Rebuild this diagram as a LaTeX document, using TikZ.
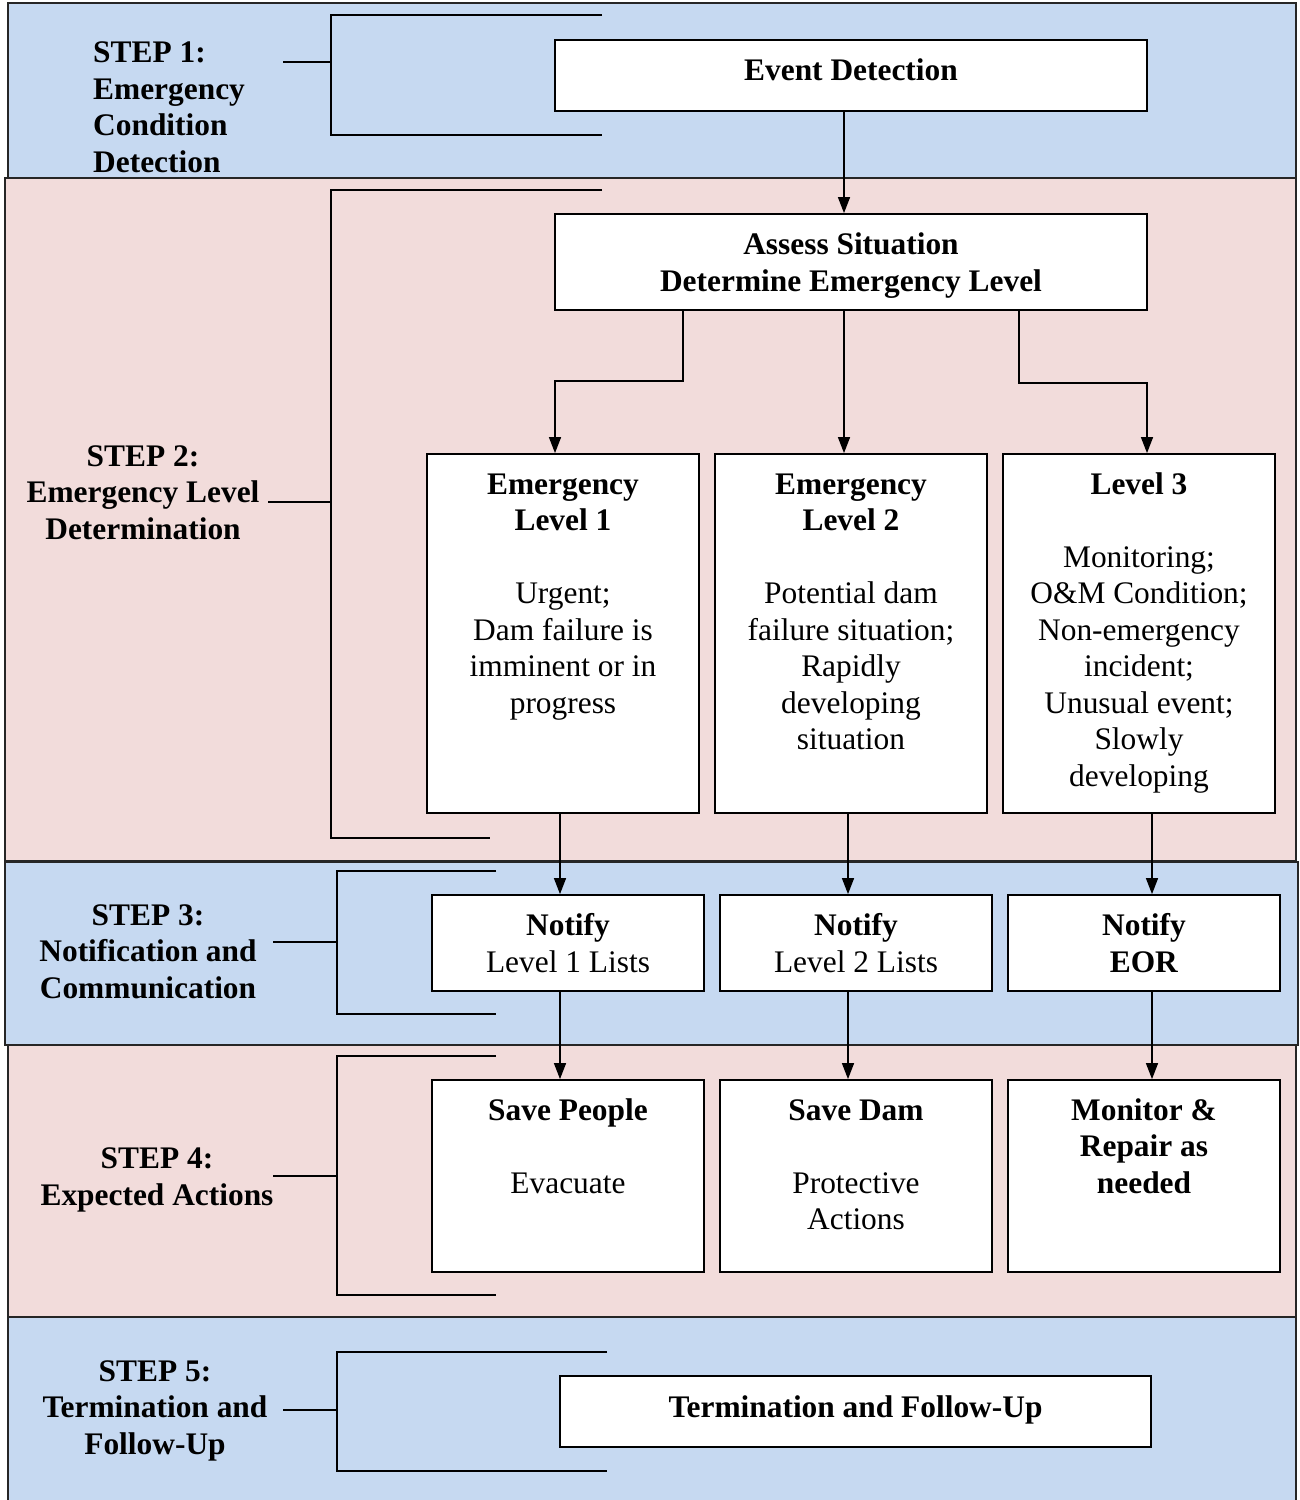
\documentclass[tikz,border=0pt]{standalone}
\usepackage{fontspec}
\setmainfont{Liberation Serif}
\usetikzlibrary{arrows.meta}
\definecolor{bandblue}{RGB}{198,217,241}
\definecolor{bandpink}{RGB}{242,220,219}
\newcommand\myfs{\fontsize{31.4}{36.5}\selectfont}
\newcommand\topbox[3]{\parbox[c][#1][t]{#2}{\centering\rule{0pt}{40pt}#3}}
\begin{document}
\begin{tikzpicture}[x=1pt,y=-1pt,
  band/.style={draw=black!85,line width=1.6pt},
  box/.style={draw,line width=1.8pt,fill=white,inner sep=0pt,align=center,font=\myfs},
  steplabel/.style={inner sep=0pt,font=\myfs\bfseries,align=center},
  bracket/.style={line width=2.6pt,line join=miter},
  arr/.style={line width=1.4pt,-{Triangle[length=16pt,width=12pt]}}]
\useasboundingbox (0,0) rectangle (1300,1500);
% bands
\draw[band,fill=bandblue] (8,3) rectangle (1296,178);
\draw[band,fill=bandpink] (5,178) rectangle (1296,861);
\draw[band,fill=bandblue] (5,862) rectangle (1298,1045);
\draw[band,fill=bandpink] (8,1045) rectangle (1296,1317);
\draw[band,fill=bandblue] (8,1317) rectangle (1296,1506);
% brackets
\draw[bracket] (602,15) -- (331,15) -- (331,135) -- (602,135);
\draw[bracket] (283,62) -- (331,62);
\draw[bracket] (602,190) -- (331,190) -- (331,838) -- (490,838);
\draw[bracket] (268,502) -- (331,502);
\draw[bracket] (496,871) -- (337,871) -- (337,1014) -- (496,1014);
\draw[bracket] (273,942) -- (337,942);
\draw[bracket] (496,1056) -- (337,1056) -- (337,1295) -- (496,1295);
\draw[bracket] (273,1176) -- (337,1176);
\draw[bracket] (607,1352) -- (337,1352) -- (337,1471) -- (607,1471);
\draw[bracket] (283,1410) -- (337,1410);
% step labels
\node[steplabel,align=left,anchor=west] (s1) at (93,107.5) {STEP 1:\\Emergency\\Condition\\Detection};
\node[steplabel] (s2) at (143,492.5) {STEP 2:\\Emergency Level\\Determination};
\node[steplabel] (s3) at (148,951.5) {STEP 3:\\Notification and\\Communication};
\node[steplabel] (s4) at (157,1180) {STEP 4:\\Expected Actions};
\node[steplabel] (s5) at (155,1410.5) {STEP 5:\\Termination and\\Follow-Up};
% boxes
\node[box,minimum width=592pt,minimum height=71pt] (ev) at (851,75.5) {\smash{\raisebox{-4.9pt}{\textbf{Event Detection}}}};
\node[box,minimum width=592pt,minimum height=96pt] (as) at (851,262) {\smash{\raisebox{7.5pt}{\parbox[t]{590pt}{\centering\textbf{Assess Situation}\\\textbf{Determine Emergency Level}}}}};
\node[box] (l1) at (563,633.5) {\topbox{359pt}{272pt}{\textbf{Emergency}\\\textbf{Level 1}\\[36.5pt]Urgent;\\Dam failure is\\imminent or in\\progress}};
\node[box] (l2) at (851,633.5) {\topbox{359pt}{272pt}{\textbf{Emergency}\\\textbf{Level 2}\\[36.5pt]Potential dam\\failure situation;\\Rapidly\\developing\\situation}};
\node[box] (l3) at (1139,633.5) {\topbox{359pt}{272pt}{\textbf{Level 3}\\[36.5pt]Monitoring;\\O\&M Condition;\\Non-emergency\\incident;\\Unusual event;\\Slowly\\developing}};
\node[box,minimum width=272pt,minimum height=96pt] (n1) at (568,943) {\textbf{Notify}\\Level 1 Lists};
\node[box,minimum width=272pt,minimum height=96pt] (n2) at (856,943) {\textbf{Notify}\\Level 2 Lists};
\node[box,minimum width=272pt,minimum height=96pt] (n3) at (1144,943) {\textbf{Notify}\\\textbf{EOR}};
\node[box] (a1) at (568,1176) {\topbox{192pt}{272pt}{\textbf{Save People}\\[36.5pt]Evacuate}};
\node[box] (a2) at (856,1176) {\topbox{192pt}{272pt}{\textbf{Save Dam}\\[36.5pt]Protective\\Actions}};
\node[box] (a3) at (1144,1176) {\topbox{192pt}{272pt}{\textbf{Monitor \&}\\\textbf{Repair as}\\\textbf{needed}}};
\node[box,minimum width=591pt,minimum height=71pt] (te) at (855.5,1411.5) {\smash{\raisebox{-5.9pt}{\textbf{Termination and Follow-Up}}}};
% connectors
\draw[arr] ([xshift=-7pt]ev.south) -- ([xshift=-7pt]as.north);
\draw[arr] ([xshift=-168pt]as.south) -- ++(0,70) -| ([xshift=-8pt]l1.north);
\draw[arr] ([xshift=-7pt]as.south) -- ([xshift=-7pt]l2.north);
\draw[arr] ([xshift=168pt]as.south) -- ++(0,72) -| ([xshift=8pt]l3.north);
\draw[arr] ([xshift=-8pt]n1.north |- l1.south) -- ([xshift=-8pt]n1.north);
\draw[arr] ([xshift=-8pt]n2.north |- l2.south) -- ([xshift=-8pt]n2.north);
\draw[arr] ([xshift=8pt]n3.north |- l3.south) -- ([xshift=8pt]n3.north);
\draw[arr] ([xshift=-8pt]n1.south) -- ([xshift=-8pt]a1.north);
\draw[arr] ([xshift=-8pt]n2.south) -- ([xshift=-8pt]a2.north);
\draw[arr] ([xshift=8pt]n3.south) -- ([xshift=8pt]a3.north);
\end{tikzpicture}
\end{document}
